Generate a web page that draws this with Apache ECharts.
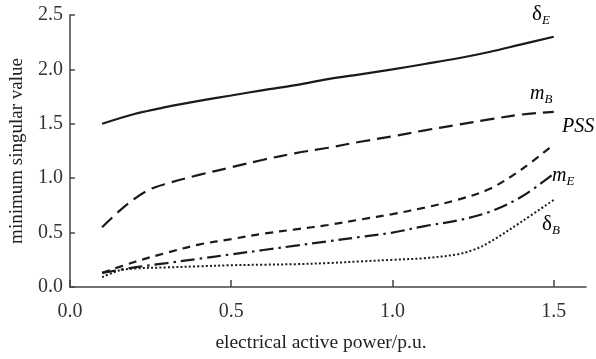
<!DOCTYPE html>
<html><head><meta charset="utf-8">
<script src="https://cdn.jsdelivr.net/npm/echarts@6/dist/echarts.min.js"></script>
<style>html,body{margin:0;padding:0;background:#fff}#c{width:596px;height:359px}</style>
</head><body><div id="c"></div>
<script>
const xTicks = [0.0, 0.5, 1.0, 1.5];
const yTicks = [0.0, 0.5, 1.0, 1.5, 2.0, 2.5];
const deltaE = [[0.1,1.50],[0.2,1.59],[0.3,1.655],[0.4,1.71],[0.5,1.76],[0.6,1.81],[0.7,1.855],[0.8,1.91],[0.9,1.955],[1.0,2.0],[1.1,2.05],[1.2,2.1],[1.3,2.16],[1.4,2.23],[1.5,2.30]];
const mB = [[0.1,0.55],[0.15,0.69],[0.2,0.81],[0.25,0.90],[0.3,0.95],[0.4,1.03],[0.5,1.10],[0.6,1.17],[0.7,1.23],[0.8,1.28],[0.9,1.335],[1.0,1.385],[1.1,1.44],[1.2,1.49],[1.3,1.54],[1.4,1.585],[1.5,1.61]];
const pss = [[0.1,0.13],[0.2,0.23],[0.3,0.315],[0.4,0.39],[0.5,0.44],[0.6,0.49],[0.7,0.53],[0.8,0.57],[0.9,0.62],[1.0,0.67],[1.1,0.73],[1.2,0.80],[1.3,0.90],[1.4,1.08],[1.5,1.31]];
const mE = [[0.1,0.13],[0.2,0.18],[0.3,0.22],[0.4,0.26],[0.5,0.30],[0.6,0.34],[0.7,0.38],[0.8,0.42],[0.9,0.46],[1.0,0.50],[1.1,0.56],[1.2,0.61],[1.3,0.69],[1.4,0.83],[1.5,1.04]];
const deltaB = [[0.1,0.09],[0.15,0.15],[0.2,0.17],[0.3,0.18],[0.4,0.19],[0.5,0.20],[0.6,0.205],[0.7,0.21],[0.8,0.22],[0.9,0.235],[1.0,0.25],[1.1,0.265],[1.2,0.30],[1.25,0.34],[1.3,0.41],[1.4,0.60],[1.5,0.80]];

const serif = '"Liberation Serif","DejaVu Serif",serif';
const ink = '#1a1a1a';
function mkLine(data, type, w) {
  return { type: 'line', data: data, smooth: 0.35, symbol: 'none', silent: true,
    lineStyle: { color: ink, width: w, type: type, cap: 'butt' } };
}
const chart = echarts.init(document.getElementById('c'));
const subRich = {
  m: { fontFamily: serif, fontStyle: 'italic', fontSize: 20, color: ink },
  d: { fontFamily: serif, fontSize: 21, color: ink },
  s: { fontFamily: serif, fontStyle: 'italic', fontSize: 13, color: ink, padding: [12, 0, 0, 0] }
};
function lbl(x, y, main, sub, key) {
  return { type: 'text', left: x, top: y, style: { text: '{' + key + '|' + main + '}' + (sub ? '{s|' + sub + '}' : ''), rich: subRich } };
}
chart.setOption({
  animation: false,
  grid: { left: 69, right: 10, top: 15, bottom: 72 },
  xAxis: {
    type: 'value', min: 0, max: 1.6,
    axisLine: { show: true, lineStyle: { color: '#444', width: 1.5 } },
    axisTick: { show: true, inside: true, length: 7, customValues: xTicks, lineStyle: { color: '#444', width: 1.5 } },
    axisLabel: { customValues: xTicks, formatter: v => v.toFixed(1), fontFamily: serif, fontSize: 20, color: '#333', margin: 15 },
    splitLine: { show: false },
    name: 'electrical active power/p.u.', nameLocation: 'middle', nameGap: 46,
    nameTextStyle: { fontFamily: serif, fontSize: 19.5, color: '#222', padding: [0, 14, 0, 0] }
  },
  yAxis: {
    type: 'value', min: 0, max: 2.5, interval: 0.5,
    axisLine: { show: true, lineStyle: { color: '#444', width: 1.5 } },
    axisTick: { show: true, inside: true, length: 5, lineStyle: { color: '#444', width: 1.5 } },
    axisLabel: { formatter: v => v.toFixed(1), fontFamily: serif, fontSize: 20, color: '#333', margin: 7 },
    splitLine: { show: false },
    name: 'minimum singular value', nameLocation: 'middle', nameGap: 40,
    nameTextStyle: { fontFamily: serif, fontSize: 19, color: '#222' }
  },
  series: [
    mkLine(deltaE, 'solid', 2.2),
    mkLine(mB, [14, 7], 2.2),
    mkLine(pss, [8, 6], 2.2),
    mkLine(mE, [14, 5, 2.5, 5], 2.2),
    mkLine(deltaB, [2, 2.2], 2)
  ],
  graphic: [
    lbl(532, 4, 'δ', 'E', 'd'),
    lbl(530, 84, 'm', 'B', 'm'),
    lbl(562, 117, 'PSS', '', 'm'),
    lbl(552, 166, 'm', 'E', 'm'),
    lbl(542, 214, 'δ', 'B', 'd')
  ]
});
</script></body></html>
